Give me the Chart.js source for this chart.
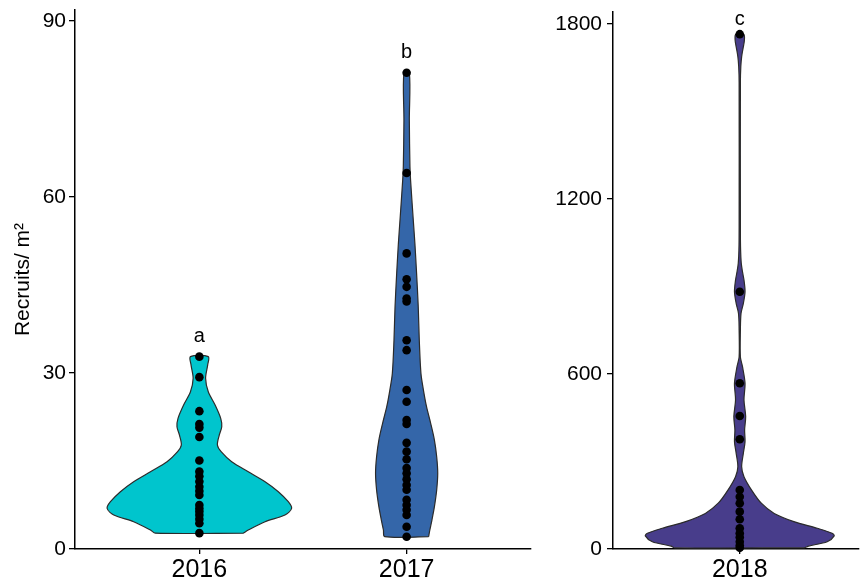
<!DOCTYPE html>
<html>
<head>
<meta charset="utf-8">
<script src="https://cdn.jsdelivr.net/npm/chart.js@4.4.1/dist/chart.umd.min.js"></script>
<style>
  html, body { margin: 0; padding: 0; background: #fff; }
  #wrap { position: relative; width: 863px; height: 582px; overflow: hidden; }
  #wrap canvas { position: absolute; top: 0; }
</style>
</head>
<body>
<div id="wrap">
  <canvas id="panelA" width="545" height="582" style="left:0px"></canvas>
  <canvas id="panelB" width="318" height="582" style="left:545px"></canvas>
</div>
<script>
// ---- categories and axis ticks ----
const yearsA = ['2016', '2017'];
const yearsB = ['2018'];
const yTicksA = [0, 30, 60, 90];
const yTicksB = [0, 600, 1200, 1800];

// ---- recruits per m2, one value per plot ----
const recruits2016 = [32.8, 29.3, 23.5, 21.3, 20.7, 19.1, 15.1, 13.2, 12.4, 11.5, 10.6, 9.9, 9.2, 7.5, 6.9, 6.4, 5.8, 5.1, 4.4, 2.7];
const recruits2017 = [81.2, 64.1, 50.4, 46.0, 44.7, 42.7, 42.2, 35.6, 33.9, 27.1, 25.1, 22.0, 21.3, 18.1, 16.6, 15.3, 13.8, 12.9, 11.9, 10.9, 10.1, 8.4, 7.5, 6.7, 5.8, 3.8, 2.1];
const recruits2018 = [1765, 882, 568, 456, 376, 202, 179, 157, 128, 102, 71, 54, 40, 25, 12, 4];

// ---- violin outlines: density half-width (in category units) at each level ----
const violin2016Levels = [2.7, 3.24, 4.65, 5.8, 6.94, 8.06, 9.77, 11.47, 13.18, 14.88, 16.59, 17.73, 19.43, 20.85, 22.28, 24.55, 26.81, 29.1, 31.36, 32.8];
const violin2016Half   = [0.212, 0.236, 0.317, 0.413, 0.445, 0.429, 0.381, 0.317, 0.236, 0.156, 0.105, 0.087, 0.096, 0.108, 0.103, 0.076, 0.043, 0.030, 0.040, 0.043];

const violin2017Levels = [2.1, 3.24, 4.94, 7.21, 10.06, 12.9, 15.73, 18.58, 21.43, 24.26, 27.1, 29.95, 35.62, 41.3, 46.99, 52.0, 56.1, 62.9, 65.2, 73.1, 81.2];
const violin2017Half   = [0.106, 0.112, 0.122, 0.134, 0.145, 0.150, 0.145, 0.134, 0.116, 0.096, 0.081, 0.069, 0.061, 0.056, 0.048, 0.040, 0.032, 0.019, 0.016, 0.013, 0.013];

const violin2018Levels = [4, 10, 25, 45, 54, 71, 94, 122, 157, 202, 248, 282, 328, 368, 408, 454, 511, 568, 625, 658, 751, 808, 842, 882, 922, 950, 980, 1025, 1100, 1600, 1654, 1688, 1722, 1745, 1765];
const violin2018Half   = [0.307, 0.325, 0.414, 0.447, 0.437, 0.367, 0.256, 0.163, 0.102, 0.056, 0.020, 0.009, 0.017, 0.025, 0.023, 0.028, 0.020, 0.025, 0.013, 0.003, 0.003, 0.006, 0.017, 0.025, 0.020, 0.013, 0.007, 0.004, 0.003, 0.003, 0.005, 0.009, 0.017, 0.022, 0.019];

// ---- significance letters and the level of their baselines ----
const lettersA = ['a', 'b'];
const letterLevelsA = [35.3, 83.8];
const lettersB = ['c'];
const letterLevelsB = [1797];

const FONT = '"Liberation Sans", Arial, Helvetica, sans-serif';
Chart.defaults.font.family = FONT;
Chart.defaults.color = '#000';

function outline(center, levels, half) {
  const right = levels.map((v, i) => ({ x: center + half[i], y: v }));
  const left = levels.map((v, i) => ({ x: center - half[i], y: v })).reverse();
  return right.concat(left, [right[0]]);
}

function dots(center, values) {
  return values.map(v => ({ x: center, y: v }));
}

const letterPlugin = {
  id: 'groupLetters',
  afterDatasetsDraw(chart, args, opts) {
    const { ctx, scales } = chart;
    ctx.save();
    ctx.font = '20px ' + FONT;
    ctx.fillStyle = '#000';
    ctx.textAlign = 'center';
    ctx.textBaseline = 'alphabetic';
    opts.letters.forEach((t, i) => {
      ctx.fillText(t, scales.x.getPixelForValue(i + 1), scales.y.getPixelForValue(opts.levels[i]));
    });
    ctx.restore();
  }
};

function buildPanel(canvas, cfg) {
  const datasets = [];
  cfg.groups.forEach((g, i) => {
    datasets.push({
      type: 'line',
      data: dots(i + 1, g.values),
      showLine: false,
      pointRadius: 4.3,
      pointHoverRadius: 4.3,
      pointBackgroundColor: '#000',
      pointBorderWidth: 0,
      order: 0,
      clip: false
    });
    datasets.push({
      type: 'line',
      data: outline(i + 1, g.levels, g.half),
      fill: 'shape',
      backgroundColor: g.color,
      borderColor: '#2b2b2b',
      borderWidth: 1.2,
      pointRadius: 0,
      tension: 0.3,
      order: 1,
      clip: false
    });
  });

  return new Chart(canvas, {
    type: 'line',
    data: { datasets },
    plugins: [letterPlugin],
    options: {
      responsive: false,
      animation: false,
      devicePixelRatio: 1,
      layout: { padding: cfg.padding },
      plugins: {
        legend: { display: false },
        tooltip: { enabled: false },
        groupLetters: { letters: cfg.letters, levels: cfg.letterLevels }
      },
      scales: {
        x: {
          type: 'linear',
          min: 0.4,
          max: cfg.xMax,
          afterBuildTicks: s => { s.ticks = cfg.cats.map((c, i) => ({ value: i + 1 })); },
          afterFit: s => { s.height = 33; s.paddingLeft = 0; s.paddingRight = 0; },
          ticks: {
            callback: v => cfg.cats[Math.round(v) - 1],
            font: { size: 25 },
            color: '#000',
            padding: 1,
            autoSkip: false,
            maxRotation: 0
          },
          grid: { drawOnChartArea: false, drawTicks: true, tickLength: 5, color: '#000', lineWidth: 1.3 },
          border: { display: true, color: '#000', width: 1.5 }
        },
        y: {
          type: 'linear',
          min: 0,
          max: cfg.yMax,
          afterBuildTicks: s => { s.ticks = cfg.yTicks.map(v => ({ value: v })); },
          afterFit: s => { s.width = cfg.yWidth; s.paddingTop = 0; s.paddingBottom = 0; },
          ticks: { font: { size: 21 }, color: '#000', padding: cfg.tickPad, callback: v => String(v) },
          grid: { drawOnChartArea: false, drawTicks: true, tickLength: 6, color: '#000', lineWidth: 1.3 },
          border: { display: true, color: '#000', width: 1.5, dash: cfg.dash },
          title: cfg.title
        }
      }
    }
  });
}

buildPanel(document.getElementById('panelA'), {
  cats: yearsA,
  groups: [
    { values: recruits2016, levels: violin2016Levels, half: violin2016Half, color: '#00C5CD' },
    { values: recruits2017, levels: violin2017Levels, half: violin2017Half, color: '#3466A9' }
  ],
  letters: lettersA,
  letterLevels: letterLevelsA,
  xMax: 2.6,
  yMax: 91.9,
  yTicks: yTicksA,
  yWidth: 75,
  tickPad: 3,
  dash: [],
  padding: { left: 0, right: 14, top: 10, bottom: 0 },
  title: { display: true, text: 'Recruits/ m²', font: { size: 21 }, color: '#000', padding: { top: 11, bottom: 0 } }
});

buildPanel(document.getElementById('panelB'), {
  cats: yearsB,
  groups: [
    { values: recruits2018, levels: violin2018Levels, half: violin2018Half, color: '#483D8B' }
  ],
  letters: lettersB,
  letterLevels: letterLevelsB,
  xMax: 1.563,
  yMax: 1841,
  yTicks: yTicksB,
  yWidth: 68,
  tickPad: 5,
  dash: [7, 5],
  padding: { left: 0, right: 0, top: 12, bottom: 0 },
  title: { display: false }
});
</script>
</body>
</html>
